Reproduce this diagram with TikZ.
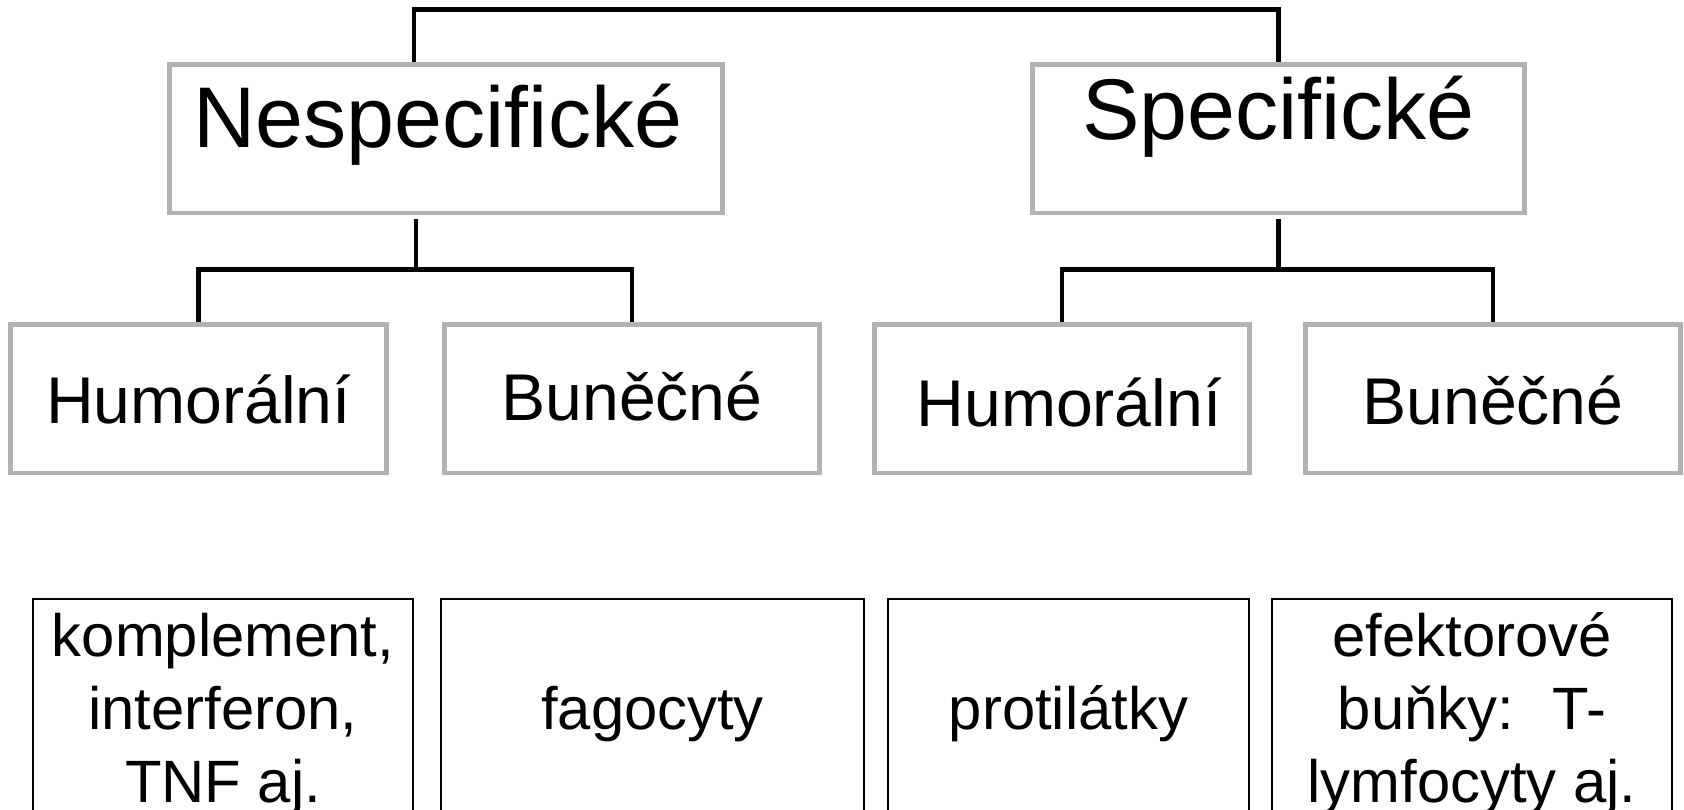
\documentclass[tikz,border=0pt]{standalone}
\usepackage{fontspec}
\setmainfont{Liberation Sans}
\usetikzlibrary{positioning}
\definecolor{seda}{RGB}{178,178,178}

\begin{document}
\begin{tikzpicture}[x=0.01cm,y=-0.01cm,
  skupina/.style={draw=seda,line width=1.4pt,inner sep=0pt,
    minimum height=1.48cm,text depth=0pt,text height=#1},
  velky/.style={font=\fontsize{24.5}{29}\selectfont},
  stredni/.style={font=\fontsize{18.8}{22}\selectfont},
  priklad/.style={draw,line width=0.6pt,inner sep=0pt,align=center,
    minimum height=2.3cm,font=\fontsize{17}{20.8}\selectfont},
  spoj/.style={line width=1.2pt}]
  \useasboundingbox (0,0) rectangle (1684,810);

  % hlavni skupiny
  \node[skupina=0.18cm,velky,minimum width=5.52cm] (nesp) at (446,139) {\hspace*{-0.16cm}Nespecifické};
  \node[skupina=0.02cm,velky,minimum width=4.91cm] (spec) at (1278.5,139) {Specifické};

  % humoralni a bunecne
  \node[skupina=0.48cm,stredni,minimum width=3.75cm] (hum-n) at (198.5,399) {Humorální};
  \node[skupina=0.42cm,stredni,minimum width=3.75cm] (bun-n) at (632,399) {Buněčné};
  \node[skupina=0.54cm,stredni,minimum width=3.74cm] (hum-s) at (1062,399) {\hspace*{0.14cm}Humorální};
  \node[skupina=0.50cm,stredni,minimum width=3.74cm] (bun-s) at (1493,399) {Buněčné};

  % priklady
  \node[priklad,minimum width=3.8cm] (kompl) at (223,714) {komplement,\\interferon,\\TNF aj.};
  \node[priklad,minimum width=4.23cm] (fago) at (652.5,714) {fagocyty};
  \node[priklad,minimum width=3.6cm] (proti) at (1068.5,714) {protilátky};
  \node[priklad,minimum width=4cm] (efekt) at (1472,714) {efektorové\\buňky:~ T-\\lymfocyty aj.};

  % spoje
  \draw[spoj] ([xshift=-0.32cm]nesp.north) -- ++(0,-53) -| (spec.north);
  \draw[spoj] ([xshift=-0.3cm,yshift=-0.04cm]nesp.south) -- ++(0,50) coordinate (uzel-n);
  \draw[spoj] (hum-n.north) |- (uzel-n) -| (bun-n.north);
  \draw[spoj] ([yshift=-0.04cm]spec.south) -- ++(0,50) coordinate (uzel-s);
  \draw[spoj] (hum-s.north) |- (uzel-s) -| (bun-s.north);
\end{tikzpicture}
\end{document}
